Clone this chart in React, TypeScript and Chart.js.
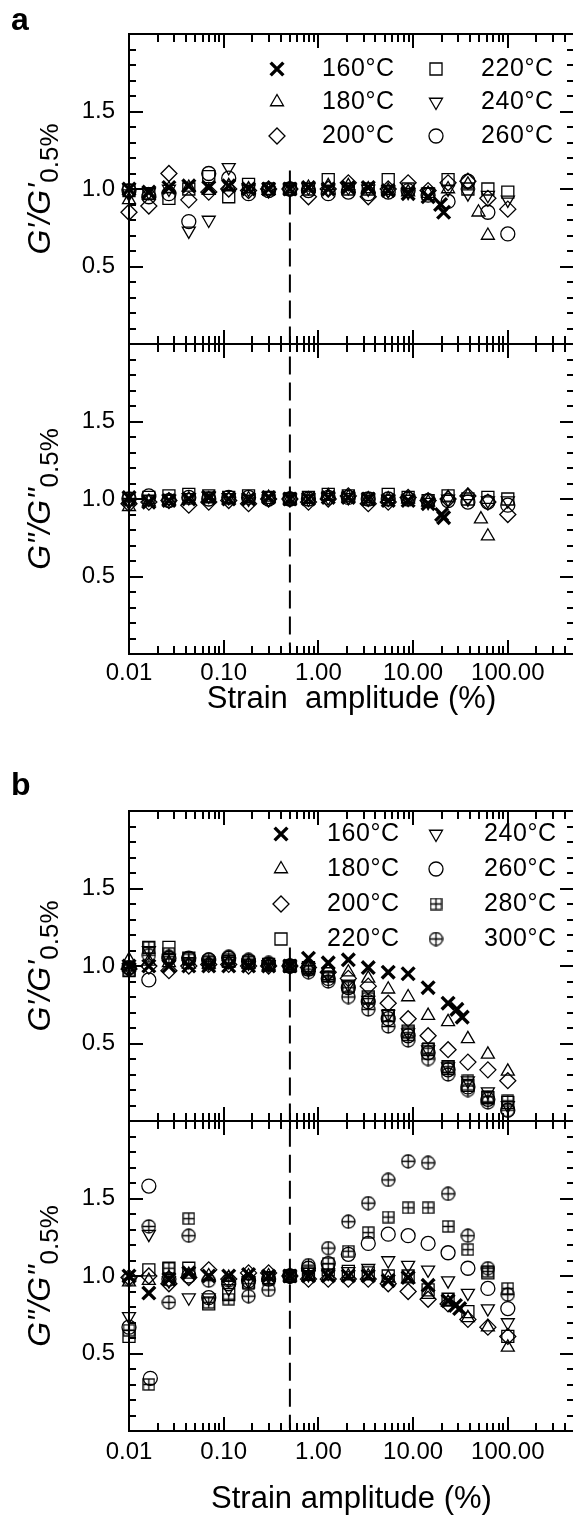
import React, { useEffect, useRef } from 'react';
import { Chart, registerables } from 'chart.js';
import { drawPoint } from 'chart.js/helpers';

Chart.register(...registerables);

const FONT = '"Liberation Sans", Arial, Helvetica, sans-serif';

// ---------------- data ----------------
const strain = [0.01, 0.0162, 0.0264, 0.0428, 0.0695, 0.113, 0.183, 0.298, 0.5, 0.785, 1.27, 2.07, 3.36, 5.46, 8.86, 14.4, 23.4, 37.9, 61.6, 100];
const xTickValues = [0.01, 0.1, 1, 10, 100];
const xTickLabels = ['0.01', '0.10', '1.00', '10.00', '100.00'];
const yTickValues = [0.5, 1.0, 1.5];
const yTickLabels = ['0.5', '1.0', '1.5'];
const refStrain = 0.5;

// panel a, G'/G'0.5%
const aGp160 = [1.00, 0.98, 1.01, 1.02, 1.01, 1.02, 1.00, 1.00, 1.00, 1.01, 1.00, 1.01, 1.01, 0.99, 0.97, 0.95, null, null, null, null];
const aGp160x: [number, number][] = [[19.5, 0.90], [21, 0.85]];
const aGp180 = [0.93, 0.96, 1.00, 1.01, 0.99, 1.02, 1.00, 0.99, 1.00, 1.01, 1.02, 1.02, 1.00, 0.99, 0.98, 0.97, 1.00, 1.03, 0.70, null];
const aGp180x: [number, number][] = [[49, 0.85]];
const aGp200 = [0.85, 0.89, 1.10, 0.93, 0.98, 1.00, 0.99, 1.00, 1.00, 0.95, 1.00, 1.04, 0.95, 1.00, 1.04, 0.99, 1.04, 1.05, 0.94, 0.87];
const aGp220 = [0.99, 0.97, 0.94, 1.00, 1.08, 0.95, 1.03, 1.00, 1.00, 1.00, 1.06, 1.00, 1.00, 1.06, 1.00, 0.97, 1.06, 1.00, 1.00, 0.98];
const aGp240 = [0.97, 0.98, 1.00, 0.73, 0.80, 1.14, 1.00, 0.99, 1.00, 1.01, 1.00, 1.01, 1.00, 0.99, 0.98, 0.98, 1.00, 0.97, 0.96, 0.93];
const aGp260 = [0.99, 0.95, 0.97, 0.79, 1.10, 1.07, 0.97, 0.99, 1.00, 0.99, 0.97, 0.98, 0.97, 0.98, 0.99, 0.96, 0.92, 1.05, 0.85, 0.71];

// panel a, G''/G''0.5%
const aGpp160 = [1.01, 0.98, 0.99, 1.00, 1.01, 1.00, 1.00, 1.01, 1.00, 1.00, 1.01, 1.01, 1.00, 0.99, 0.99, 0.97, null, null, null, null];
const aGpp160x: [number, number][] = [[20, 0.90], [21, 0.88]];
const aGpp180 = [0.95, 0.98, 0.99, 1.00, 1.00, 1.00, 1.00, 1.01, 1.00, 1.00, 1.02, 1.01, 1.00, 1.00, 1.00, 0.98, 1.01, 1.02, 0.76, null];
const aGpp180x: [number, number][] = [[52, 0.87]];
const aGpp200 = [0.97, 0.98, 0.99, 0.96, 0.98, 0.99, 0.97, 1.00, 1.00, 0.98, 1.00, 1.02, 0.97, 0.98, 1.01, 0.99, 1.00, 1.02, 0.98, 0.90];
const aGpp220 = [1.00, 1.01, 1.02, 1.03, 1.02, 1.01, 1.02, 1.01, 1.00, 1.01, 1.03, 1.02, 1.00, 1.03, 1.01, 0.99, 1.02, 1.00, 1.01, 1.00];
const aGpp240 = [0.98, 1.00, 1.00, 1.01, 1.02, 1.01, 1.00, 1.00, 1.00, 1.00, 1.01, 1.01, 1.00, 1.00, 1.00, 0.98, 1.00, 1.00, 0.99, 0.99];
const aGpp260 = [1.00, 1.02, 0.99, 1.01, 1.00, 1.01, 1.01, 1.00, 1.00, 1.00, 1.01, 1.01, 1.00, 1.00, 1.00, 0.99, 0.99, 0.98, 0.98, 0.96];

// panel b, G'/G'0.5%
const bGp160 = [1.00, 1.00, 1.00, 1.00, 1.00, 1.00, 1.00, 1.00, 1.00, 1.05, 1.02, 1.04, 0.99, 0.96, 0.95, 0.86, 0.76, null, null, null];
const bGp160x: [number, number][] = [[29, 0.72], [33, 0.67]];
const bGp180 = [1.04, 1.03, 1.02, 1.01, 1.01, 1.02, 1.01, 1.00, 1.00, 0.99, 0.98, 0.96, 0.92, 0.85, 0.80, 0.68, 0.64, 0.53, 0.43, 0.32];
const bGp200 = [0.98, 1.00, 0.97, 1.00, 1.01, 1.01, 1.00, 1.00, 1.00, 0.99, 0.96, 0.92, 0.87, 0.76, 0.66, 0.55, 0.46, 0.38, 0.33, 0.26];
const bGp220 = [0.97, 1.12, 1.12, 1.05, 1.02, 1.03, 1.02, 1.01, 1.00, 0.99, 0.95, 0.87, 0.80, 0.68, 0.58, 0.46, 0.35, 0.23, 0.15, 0.12];
const bGp240 = [0.99, 1.10, 1.05, 1.03, 1.02, 1.03, 1.02, 1.01, 1.00, 0.98, 0.94, 0.88, 0.78, 0.69, 0.57, 0.46, 0.35, 0.26, 0.19, 0.10];
const bGp260 = [0.99, 0.91, 1.05, 1.05, 1.04, 1.05, 1.03, 1.01, 1.00, 0.98, 0.92, 0.86, 0.77, 0.66, 0.55, 0.44, 0.33, 0.22, 0.14, 0.07];
const bGp280 = [0.97, 1.12, 1.08, 1.04, 1.03, 1.04, 1.03, 1.01, 1.00, 0.98, 0.93, 0.86, 0.79, 0.68, 0.57, 0.47, 0.35, 0.26, 0.16, 0.13];
const bGp300 = [0.99, 1.07, 1.06, 1.05, 1.04, 1.06, 1.04, 1.02, 1.00, 0.96, 0.90, 0.80, 0.72, 0.61, 0.52, 0.40, 0.30, 0.20, 0.12, 0.07];

// panel b, G''/G''0.5%
const bGpp160 = [1.00, 0.89, 0.98, 1.02, 1.00, 1.00, 1.01, 1.00, 1.00, 1.00, 1.00, 1.00, 1.00, 0.97, 0.99, 0.94, 0.84, null, null, null];
const bGpp160x: [number, number][] = [[28, 0.81], [31, 0.79]];
const bGpp180 = [0.96, 0.97, 0.99, 1.01, 1.00, 0.99, 1.00, 1.00, 1.00, 1.00, 1.00, 1.00, 1.00, 0.99, 0.98, 0.88, 0.83, 0.73, 0.67, 0.54];
const bGpp200 = [0.99, 1.00, 0.95, 0.99, 1.04, 0.98, 1.02, 1.02, 1.00, 0.98, 0.98, 0.98, 0.98, 0.95, 0.90, 0.85, 0.82, 0.72, 0.67, 0.61];
const bGpp220 = [0.61, 1.04, 1.05, 1.05, 0.82, 0.88, 0.96, 0.99, 1.00, 1.01, 1.04, 1.03, 1.02, 1.00, 1.00, 0.91, 0.85, 0.77, 1.02, 0.61];
const bGpp240 = [0.74, 1.27, 0.97, 0.86, 0.86, 0.92, 0.97, 1.00, 1.00, 1.01, 1.02, 1.03, 1.05, 1.10, 1.07, 1.04, 0.97, 0.89, 0.79, 0.70];
const bGpp260 = [0.67, 1.58, 0.98, 1.00, 0.86, 0.95, 0.97, 0.98, 1.00, 1.05, 1.08, 1.14, 1.21, 1.27, 1.26, 1.21, 1.15, 1.05, 0.92, 0.79];
const bGpp260x: [number, number][] = [[0.0168, 0.34]];
const bGpp280 = [0.65, 0.30, 1.05, 1.37, 0.83, 0.85, 0.95, 0.98, 1.00, 1.02, 1.08, 1.16, 1.28, 1.38, 1.44, 1.44, 1.32, 1.17, 1.03, 0.92];
const bGpp300 = [0.98, 1.32, 0.83, 1.26, 0.97, 0.97, 0.87, 0.91, 1.00, 1.07, 1.18, 1.35, 1.47, 1.62, 1.74, 1.73, 1.53, 1.26, 1.05, 0.88];

// ---------------- markers ----------------
type Marker = { pointStyle: any; rotation: number; radius: number; borderWidth: number };
let markerCache: Record<string, Marker> | null = null;

function plusMarker(kind: 'box' | 'circle', size: number) {
  const c = document.createElement('canvas');
  c.width = size;
  c.height = size;
  const ctx = c.getContext('2d')!;
  ctx.strokeStyle = '#000';
  ctx.lineWidth = 1.3;
  const m = size / 2;
  if (kind === 'box') {
    ctx.strokeRect(1, 1, size - 2, size - 2);
  } else {
    ctx.beginPath();
    ctx.arc(m, m, m - 1, 0, Math.PI * 2);
    ctx.stroke();
  }
  ctx.beginPath();
  ctx.moveTo(m, 1);
  ctx.lineTo(m, size - 1);
  ctx.moveTo(1, m);
  ctx.lineTo(size - 1, m);
  ctx.stroke();
  return c;
}

function getMarkers(): Record<string, Marker> {
  if (markerCache) return markerCache;
  markerCache = {
    '160': { pointStyle: 'crossRot', rotation: 0, radius: 9, borderWidth: 3.4 },
    '180': { pointStyle: 'triangle', rotation: 0, radius: 7.5, borderWidth: 1.3 },
    '200': { pointStyle: 'rectRot', rotation: 0, radius: 8, borderWidth: 1.3 },
    '220': { pointStyle: 'rect', rotation: 0, radius: 8.5, borderWidth: 1.3 },
    '240': { pointStyle: 'triangle', rotation: 180, radius: 7.5, borderWidth: 1.3 },
    '260': { pointStyle: 'circle', rotation: 0, radius: 7, borderWidth: 1.3 },
    '280': { pointStyle: plusMarker('box', 13), rotation: 0, radius: 6.5, borderWidth: 1.3 },
    '300': { pointStyle: plusMarker('circle', 15), rotation: 0, radius: 7.5, borderWidth: 1.3 },
  };
  return markerCache;
}

// ---------------- panel ----------------
type SeriesIn = { temp: string; ys: (number | null)[]; extra?: [number, number][] };
type LegendCfg = { cols: string[][]; markerX: number[]; textX: number[]; rowY: number[] };

interface PanelProps {
  canvasTop: number;
  chartTop: number;
  canvasHeight: number;
  series: SeriesIn[];
  yMain: string;
  ySub: string;
  lower: boolean;
  xTitle?: string;
  tickPad?: number;
  titlePadBottom?: number;
  legend?: LegendCfg;
  letter?: string;
  letterY?: number;
  dashTop: number;
  dashBottom: number;
}

const CANVAS_W = 600;
const PLOT_RIGHT = 574;
const PLOT_LEFT = 129;
const PLOT_H = 310;
const TICK_SIZE = 24;

function Panel(p: PanelProps) {
  const ref = useRef<HTMLCanvasElement>(null);
  useEffect(() => {
    const markers = getMarkers();
    const padTop = p.chartTop - p.canvasTop;
    const xAxisH = p.lower ? p.canvasHeight - padTop - PLOT_H : 0;
    const padBottom = p.lower ? 0 : p.canvasHeight - padTop - PLOT_H;

    const datasets: any[] = [
      {
        label: 'ref',
        data: [{ x: refStrain, y: p.dashTop }, { x: refStrain, y: p.dashBottom }],
        showLine: true,
        borderColor: '#000',
        borderWidth: 2,
        borderDash: [18, 8],
        pointRadius: 0,
        clip: false,
      },
    ];
    p.series.forEach((s) => {
      const m = markers[s.temp];
      const pts: { x: number; y: number }[] = [];
      s.ys.forEach((v, i) => {
        if (v !== null) pts.push({ x: strain[i], y: v });
      });
      (s.extra || []).forEach(([x, y]) => pts.push({ x, y }));
      datasets.push({
        label: s.temp + '°C',
        data: pts,
        showLine: false,
        pointStyle: m.pointStyle,
        pointRotation: m.rotation,
        pointRadius: m.radius,
        pointBorderWidth: m.borderWidth,
        pointBorderColor: '#000',
        pointBackgroundColor: 'rgba(0,0,0,0)',
        clip: false,
      });
    });

    const framePlugin = {
      id: 'frame',
      beforeDatasetsDraw(chart: any) {
        const { ctx, chartArea } = chart;
        const { left, top, bottom } = chartArea;
        const xs = chart.scales.x;
        const ys = chart.scales.y;
        const right = xs.getPixelForValue(500);
        ctx.save();
        ctx.strokeStyle = '#000';
        ctx.lineWidth = 2;
        ctx.beginPath();
        ctx.moveTo(left - 1, top);
        ctx.lineTo(right + 1, top);
        ctx.moveTo(left - 1, bottom);
        ctx.lineTo(right + 1, bottom);
        ctx.moveTo(left, top);
        ctx.lineTo(left, bottom);
        ctx.moveTo(right, top);
        ctx.lineTo(right, bottom);
        for (let d = 0.01; d < 500; d *= 10) {
          for (let k = 1; k <= 9; k++) {
            const v = d * k;
            if (v > 450) break;
            const px = Math.round(xs.getPixelForValue(v));
            const len = k === 1 ? 14 : 8;
            ctx.moveTo(px, top);
            ctx.lineTo(px, top + len);
            ctx.moveTo(px, bottom);
            ctx.lineTo(px, bottom - len);
          }
        }
        for (let k = 1; k < 20; k++) {
          const v = k / 10;
          const py = Math.round(ys.getPixelForValue(v));
          const len = k % 5 === 0 ? 14 : 7;
          ctx.moveTo(left, py);
          ctx.lineTo(left + len, py);
          ctx.moveTo(right, py);
          ctx.lineTo(right - len, py);
        }
        ctx.stroke();
        ctx.restore();
      },
      afterDraw(chart: any) {
        const { ctx, chartArea } = chart;
        ctx.save();
        const cy = (chartArea.top + chartArea.bottom) / 2;
        const mainFont = `italic 32px ${FONT}`;
        const subFont = `26px ${FONT}`;
        ctx.font = mainFont;
        const w1 = ctx.measureText(p.yMain).width;
        ctx.font = subFont;
        const w2 = ctx.measureText(p.ySub).width;
        const total = w1 + w2 + 1;
        ctx.translate(0, cy);
        ctx.rotate(-Math.PI / 2);
        ctx.fillStyle = '#000';
        ctx.textAlign = 'left';
        ctx.textBaseline = 'alphabetic';
        ctx.font = mainFont;
        ctx.fillText(p.yMain, -total / 2, 50);
        ctx.font = subFont;
        ctx.fillText(p.ySub, -total / 2 + w1 + 1, 58);
        ctx.restore();

        if (p.legend) {
          const L = p.legend;
          ctx.save();
          L.cols.forEach((col, ci) => {
            col.forEach((temp, ri) => {
              const m = markers[temp];
              const y = L.rowY[ri] - p.canvasTop;
              ctx.strokeStyle = '#000';
              ctx.fillStyle = 'rgba(0,0,0,0)';
              ctx.lineWidth = m.borderWidth;
              drawPoint(ctx, { pointStyle: m.pointStyle, rotation: m.rotation, radius: m.radius, borderWidth: m.borderWidth } as any, L.markerX[ci], y);
              ctx.fillStyle = '#000';
              ctx.font = `25px ${FONT}`;
              (ctx as any).letterSpacing = '0.6px';
              ctx.textAlign = 'left';
              ctx.textBaseline = 'middle';
              ctx.fillText(temp + '°C', L.textX[ci], y);
              (ctx as any).letterSpacing = '0px';
            });
          });
          ctx.restore();
        }
        if (p.letter) {
          ctx.save();
          ctx.fillStyle = '#000';
          ctx.font = `bold 32px ${FONT}`;
          ctx.textAlign = 'left';
          ctx.textBaseline = 'alphabetic';
          ctx.fillText(p.letter, 11, (p.letterY || 0) - p.canvasTop);
          ctx.restore();
        }
      },
    };

    const chart = new Chart(ref.current!, {
      type: 'scatter',
      data: { datasets },
      options: {
        animation: false,
        responsive: false,
        devicePixelRatio: 1,
        events: [],
        layout: { padding: { left: 0, right: CANVAS_W - PLOT_RIGHT, top: padTop, bottom: padBottom } },
        plugins: { legend: { display: false }, tooltip: { enabled: false } },
        scales: {
          x: {
            type: 'logarithmic',
            min: 0.01,
            max: 500,
            display: p.lower,
            afterBuildTicks: (s: any) => {
              s.ticks = xTickValues.map((v) => ({ value: v }));
            },
            afterFit: (s: any) => {
              if (p.lower) s.height = xAxisH;
            },
            grid: { display: false, drawTicks: false },
            border: { display: false },
            ticks: {
              autoSkip: false,
              maxRotation: 0,
              minRotation: 0,
              padding: p.tickPad || 0,
              color: '#000',
              font: { family: FONT, size: TICK_SIZE },
              callback: (_v: any, i: number) => xTickLabels[i],
            },
            title: {
              display: !!p.xTitle,
              text: p.xTitle || '',
              color: '#000',
              font: { family: FONT, size: 31 },
              padding: { top: 0, bottom: p.titlePadBottom || 0 },
            },
          },
          y: {
            type: 'linear',
            min: 0,
            max: 2,
            afterBuildTicks: (s: any) => {
              s.ticks = yTickValues.map((v) => ({ value: v }));
            },
            afterFit: (s: any) => {
              s.width = PLOT_LEFT;
            },
            grid: { display: false, drawTicks: false },
            border: { display: false },
            ticks: {
              padding: 14,
              color: '#000',
              font: { family: FONT, size: TICK_SIZE },
              callback: (_v: any, i: number) => yTickLabels[i],
            },
          },
        },
      } as any,
      plugins: [framePlugin],
    });
    return () => chart.destroy();
  }, []);

  return (
    <canvas
      ref={ref}
      width={CANVAS_W}
      height={p.canvasHeight}
      style={{ position: 'absolute', left: 0, top: p.canvasTop, width: CANVAS_W, height: p.canvasHeight }}
    />
  );
}

const seriesAG1: SeriesIn[] = [
  { temp: '160', ys: aGp160, extra: aGp160x },
  { temp: '180', ys: aGp180, extra: aGp180x },
  { temp: '200', ys: aGp200 },
  { temp: '220', ys: aGp220 },
  { temp: '240', ys: aGp240 },
  { temp: '260', ys: aGp260 },
];
const seriesAG2: SeriesIn[] = [
  { temp: '160', ys: aGpp160, extra: aGpp160x },
  { temp: '180', ys: aGpp180, extra: aGpp180x },
  { temp: '200', ys: aGpp200 },
  { temp: '220', ys: aGpp220 },
  { temp: '240', ys: aGpp240 },
  { temp: '260', ys: aGpp260 },
];
const seriesBG1: SeriesIn[] = [
  { temp: '160', ys: bGp160, extra: bGp160x },
  { temp: '180', ys: bGp180 },
  { temp: '200', ys: bGp200 },
  { temp: '220', ys: bGp220 },
  { temp: '240', ys: bGp240 },
  { temp: '260', ys: bGp260 },
  { temp: '280', ys: bGp280 },
  { temp: '300', ys: bGp300 },
];
const seriesBG2: SeriesIn[] = [
  { temp: '160', ys: bGpp160, extra: bGpp160x },
  { temp: '180', ys: bGpp180 },
  { temp: '200', ys: bGpp200 },
  { temp: '220', ys: bGpp220 },
  { temp: '240', ys: bGpp240 },
  { temp: '260', ys: bGpp260, extra: bGpp260x },
  { temp: '280', ys: bGpp280 },
  { temp: '300', ys: bGpp300 },
];

export default function App() {
  return (
    <div style={{ position: 'absolute', left: 0, top: 0, width: 573, height: 1528, overflow: 'hidden', background: '#fff' }}>
      <Panel
        canvasTop={0}
        chartTop={34}
        canvasHeight={374}
        series={seriesAG1}
        yMain="G'/G'"
        ySub="0.5%"
        lower={false}
        dashTop={1.12}
        dashBottom={0}
        letter="a"
        letterY={30}
        legend={{ cols: [['160', '180', '200'], ['220', '240', '260']], markerX: [277, 436], textX: [322, 481], rowY: [69, 102, 136] }}
      />
      <Panel
        canvasTop={314}
        chartTop={344}
        canvasHeight={410}
        series={seriesAG2}
        yMain={'G"/G"'}
        ySub="0.5%"
        lower={true}
        xTitle="Strain  amplitude (%)"
        tickPad={5}
        titlePadBottom={6}
        dashTop={1.92}
        dashBottom={0.05}
      />
      <Panel
        canvasTop={760}
        chartTop={811}
        canvasHeight={391}
        series={seriesBG1}
        yMain="G'/G'"
        ySub="0.5%"
        lower={false}
        dashTop={1.12}
        dashBottom={0}
        letter="b"
        letterY={795}
        legend={{ cols: [['160', '180', '200', '220'], ['240', '260', '280', '300']], markerX: [281, 436], textX: [327, 484], rowY: [834, 869, 904, 939] }}
      />
      <Panel
        canvasTop={1091}
        chartTop={1121}
        canvasHeight={437}
        series={seriesBG2}
        yMain={'G"/G"'}
        ySub="0.5%"
        lower={true}
        xTitle="Strain amplitude (%)"
        tickPad={7}
        titlePadBottom={10}
        dashTop={1.95}
        dashBottom={0.02}
      />
    </div>
  );
}
